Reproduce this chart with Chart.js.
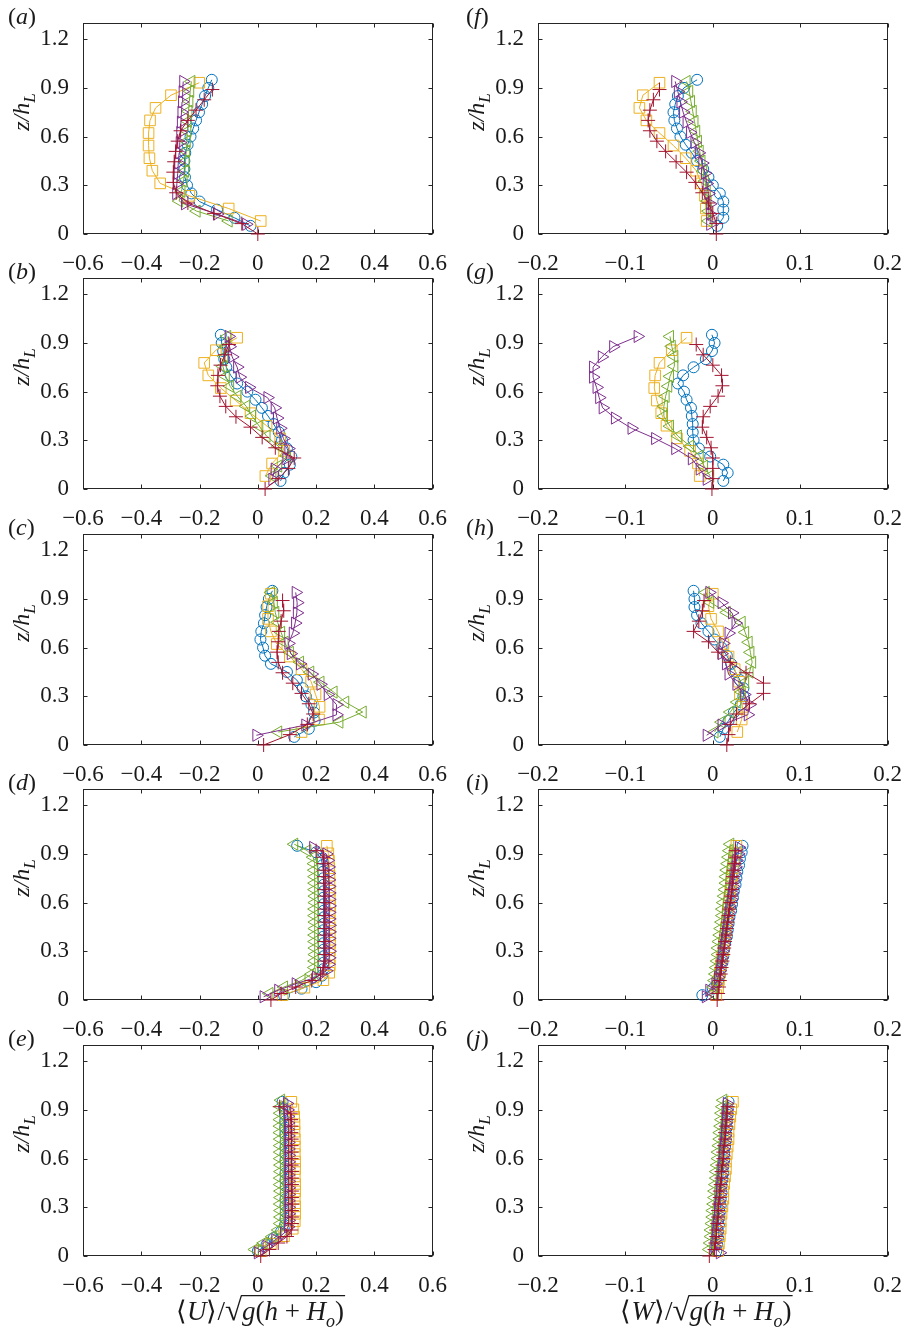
<!DOCTYPE html>
<html lang="en">
<head>
<meta charset="UTF-8">
<title>Mean velocity profiles</title>
<script src="https://cdn.jsdelivr.net/npm/chart.js"></script>
<style>
  body { margin: 0; background: #fff; }
  .page {
    position: relative; width: 910px; height: 1331px; overflow: hidden;
    background: #fff; color: #1a1a1a;
    font-family: 'Liberation Serif', 'Times New Roman', serif;
  }
  .page canvas { position: absolute; }
  .tag { position: absolute; font-size: 24px; line-height: 24px; white-space: nowrap; }
  .ylab {
    position: absolute; font-size: 24px; line-height: 24px; font-style: italic;
    white-space: nowrap; transform: translate(-50%, -50%) rotate(-90deg);
  }
  .ylab sub { font-size: 17px; vertical-align: -6px; }
</style>
</head>
<body>
<div class="page" id="page"></div>

<script>
// heights (z/h_L) of each probe, rows (a)-(c) and (f)-(h)
const zCirc  = [0.05,0.10,0.15,0.20,0.25,0.30,0.35,0.40,0.45,0.50,0.55,0.60,0.65,0.70,0.75,0.80,0.85,0.90,0.95];
const zSq    = [0.08,0.157,0.235,0.312,0.39,0.467,0.545,0.622,0.70,0.777,0.855,0.932];
const zLeft  = [0.08,0.141,0.203,0.264,0.326,0.387,0.449,0.51,0.571,0.633,0.694,0.756,0.817,0.879,0.94];
const zRight = [0.06,0.123,0.186,0.249,0.311,0.374,0.437,0.50,0.563,0.626,0.689,0.751,0.814,0.877,0.94];
const zPlus  = [0,0.064,0.127,0.191,0.254,0.318,0.381,0.445,0.509,0.572,0.636,0.70,0.763,0.827,0.89];

// denser sampling, rows (d)-(e) and (i)-(j)
const zCircD  = [0.03,0.07,0.11,0.15,0.19,0.23,0.27,0.31,0.35,0.39,0.43,0.47,0.51,0.55,0.59,0.63,0.67,0.71,0.75,0.79,0.83,0.87,0.91,0.95];
const zSqD    = [0.03,0.076,0.122,0.168,0.214,0.26,0.306,0.352,0.398,0.444,0.49,0.536,0.582,0.628,0.674,0.72,0.766,0.812,0.858,0.904,0.95];
const zLeftD  = [0.04,0.08,0.12,0.16,0.20,0.24,0.28,0.32,0.36,0.40,0.44,0.48,0.52,0.56,0.60,0.64,0.68,0.72,0.76,0.80,0.84,0.88,0.92,0.96];
const zRightD = [0.02,0.06,0.10,0.14,0.18,0.22,0.26,0.30,0.34,0.38,0.42,0.46,0.50,0.54,0.58,0.62,0.66,0.70,0.74,0.78,0.82,0.86,0.90,0.94];
const zPlusD  = [0,0.04,0.08,0.12,0.16,0.20,0.24,0.28,0.32,0.36,0.40,0.44,0.48,0.52,0.56,0.60,0.64,0.68,0.72,0.76,0.80,0.84,0.88,0.92];

// <U>/sqrt(g(h+Ho))
const a_circ  = [-0.025,-0.08,-0.14,-0.20,-0.228,-0.243,-0.25,-0.252,-0.252,-0.249,-0.241,-0.231,-0.222,-0.212,-0.202,-0.191,-0.181,-0.17,-0.158];
const a_sq    = [0.01,-0.10,-0.235,-0.335,-0.362,-0.372,-0.375,-0.375,-0.37,-0.351,-0.298,-0.201];
const a_left  = [-0.10,-0.21,-0.27,-0.262,-0.255,-0.25,-0.248,-0.246,-0.244,-0.242,-0.24,-0.238,-0.235,-0.232,-0.228];
const a_right = [-0.04,-0.14,-0.25,-0.28,-0.278,-0.275,-0.273,-0.27,-0.268,-0.266,-0.264,-0.262,-0.26,-0.258,-0.256];
const a_plus  = [0.0,-0.055,-0.15,-0.24,-0.28,-0.29,-0.29,-0.287,-0.282,-0.275,-0.265,-0.24,-0.212,-0.184,-0.156];

const b_circ  = [0.078,0.09,0.11,0.115,0.10,0.083,0.072,0.054,0.035,0.014,-0.008,-0.036,-0.071,-0.093,-0.108,-0.115,-0.119,-0.124,-0.127];
const b_sq    = [0.026,0.049,0.09,0.077,0.03,-0.025,-0.076,-0.127,-0.17,-0.184,-0.144,-0.071];
const b_left  = [0.05,0.07,0.10,0.07,0.03,0.005,-0.02,-0.04,-0.07,-0.095,-0.11,-0.12,-0.115,-0.11,-0.105];
const b_right = [0.05,0.058,0.098,0.105,0.088,0.077,0.066,0.058,0.033,-0.03,-0.062,-0.071,-0.088,-0.097,-0.10];
const b_plus  = [0.025,0.07,0.105,0.125,0.06,0.015,-0.025,-0.075,-0.11,-0.13,-0.139,-0.137,-0.128,-0.113,-0.099];

const c_circ  = [0.125,0.175,0.195,0.193,0.184,0.165,0.154,0.134,0.10,0.045,0.025,0.018,0.009,0.012,0.021,0.025,0.03,0.038,0.05];
const c_sq    = [0.15,0.21,0.212,0.198,0.183,0.15,0.11,0.065,0.045,0.035,0.035,0.045];
const c_left  = [0.07,0.28,0.36,0.30,0.26,0.215,0.18,0.145,0.11,0.092,0.08,0.068,0.06,0.055,0.045];
const c_right = [-0.005,0.163,0.27,0.27,0.24,0.215,0.185,0.145,0.113,0.105,0.12,0.128,0.134,0.135,0.13];
const c_plus  = [0.02,0.11,0.17,0.19,0.175,0.15,0.12,0.085,0.07,0.066,0.07,0.072,0.08,0.089,0.085];

const d_circ  = [0.09,0.15,0.20,0.22,0.225,0.226,0.227,0.226,0.226,0.225,0.226,0.227,0.227,0.226,0.226,0.225,0.226,0.226,0.225,0.224,0.222,0.218,0.20,0.135];
const d_sq    = [0.085,0.16,0.225,0.245,0.247,0.246,0.247,0.248,0.247,0.247,0.246,0.247,0.248,0.247,0.247,0.246,0.246,0.245,0.244,0.242,0.237];
const d_left  = [0.04,0.09,0.15,0.185,0.194,0.195,0.196,0.196,0.195,0.195,0.196,0.196,0.195,0.195,0.196,0.196,0.195,0.195,0.195,0.194,0.193,0.19,0.17,0.125];
const d_right = [0.02,0.07,0.13,0.20,0.235,0.243,0.245,0.246,0.245,0.245,0.246,0.246,0.245,0.245,0.246,0.245,0.245,0.245,0.244,0.244,0.243,0.24,0.235,0.19];
const d_plus  = [0.045,0.08,0.13,0.185,0.215,0.226,0.228,0.229,0.228,0.228,0.229,0.229,0.228,0.228,0.229,0.228,0.228,0.228,0.227,0.227,0.226,0.225,0.225,0.20];

const e_circ  = [0.0,0.03,0.055,0.08,0.093,0.095,0.096,0.095,0.095,0.096,0.096,0.095,0.095,0.096,0.095,0.095,0.095,0.096,0.095,0.094,0.094,0.093,0.09,0.085];
const e_sq    = [0.01,0.045,0.09,0.12,0.127,0.128,0.128,0.127,0.128,0.128,0.127,0.128,0.128,0.127,0.127,0.127,0.126,0.126,0.125,0.122,0.115];
const e_left  = [-0.01,0.02,0.05,0.07,0.077,0.078,0.078,0.077,0.078,0.078,0.077,0.077,0.078,0.078,0.077,0.077,0.077,0.077,0.076,0.076,0.076,0.077,0.078,0.08];
const e_right = [0.0,0.03,0.06,0.09,0.104,0.106,0.106,0.106,0.105,0.106,0.106,0.106,0.105,0.105,0.106,0.106,0.105,0.105,0.105,0.104,0.104,0.103,0.102,0.10];
const e_plus  = [0.01,0.04,0.07,0.10,0.115,0.117,0.117,0.117,0.118,0.117,0.117,0.117,0.117,0.117,0.116,0.116,0.116,0.116,0.116,0.115,0.115,0.114,0.113,0.075];

// <W>/sqrt(g(h+Ho))
const f_circ  = [0.005,0.012,0.012,0.012,0.008,0.0,-0.005,-0.011,-0.018,-0.024,-0.031,-0.037,-0.041,-0.044,-0.045,-0.043,-0.04,-0.033,-0.018];
const f_sq    = [-0.007,-0.008,-0.009,-0.013,-0.019,-0.031,-0.045,-0.061,-0.076,-0.084,-0.08,-0.061];
const f_left  = [-0.005,-0.005,-0.006,-0.007,-0.009,-0.011,-0.013,-0.015,-0.017,-0.019,-0.021,-0.023,-0.025,-0.027,-0.03];
const f_right = [-0.003,-0.003,-0.003,-0.005,-0.007,-0.009,-0.012,-0.016,-0.021,-0.026,-0.03,-0.034,-0.037,-0.04,-0.043];
const f_plus  = [0.004,0.004,0.0,-0.005,-0.012,-0.02,-0.03,-0.042,-0.054,-0.064,-0.072,-0.074,-0.072,-0.068,-0.061];

const g_circ  = [0.012,0.017,0.012,-0.003,-0.016,-0.022,-0.023,-0.023,-0.024,-0.025,-0.03,-0.033,-0.04,-0.034,-0.022,-0.008,-0.001,0.002,-0.001];
const g_sq    = [-0.015,-0.017,-0.026,-0.041,-0.053,-0.059,-0.064,-0.067,-0.066,-0.061,-0.047,-0.03];
const g_left  = [-0.003,-0.01,-0.015,-0.026,-0.04,-0.049,-0.056,-0.056,-0.054,-0.051,-0.049,-0.044,-0.044,-0.047,-0.049];
const g_right = [-0.007,-0.015,-0.024,-0.043,-0.066,-0.093,-0.112,-0.126,-0.13,-0.133,-0.137,-0.137,-0.127,-0.114,-0.086];
const g_plus  = [-0.001,0.0,0.0,0.0,-0.002,-0.007,-0.012,-0.011,-0.003,0.006,0.011,0.01,0.0,-0.011,-0.019];

const h_circ  = [0.008,0.012,0.018,0.024,0.032,0.035,0.035,0.031,0.026,0.021,0.016,0.01,0.002,-0.005,-0.013,-0.018,-0.021,-0.021,-0.022];
const h_sq    = [0.028,0.033,0.034,0.031,0.03,0.025,0.018,0.012,0.006,-0.002,-0.005,0.0];
const h_left  = [0.002,0.01,0.02,0.028,0.033,0.037,0.042,0.045,0.043,0.041,0.037,0.033,0.016,-0.003,-0.008];
const h_right = [-0.007,0.01,0.04,0.042,0.036,0.027,0.018,0.015,0.01,0.012,0.018,0.026,0.022,0.01,-0.004];
const h_plus  = [0.016,0.018,0.02,0.027,0.042,0.058,0.058,0.038,0.02,0.006,-0.005,-0.022,-0.016,-0.012,-0.01];

const i_circ  = [-0.012,0.0,0.006,0.008,0.009,0.011,0.012,0.013,0.014,0.016,0.017,0.018,0.019,0.021,0.022,0.023,0.024,0.026,0.027,0.028,0.03,0.031,0.033,0.034];
const i_sq    = [0.004,0.006,0.007,0.008,0.009,0.01,0.012,0.013,0.014,0.015,0.016,0.017,0.018,0.019,0.02,0.021,0.022,0.023,0.024,0.026,0.027];
const i_left  = [0.0,0.001,0.002,0.003,0.004,0.005,0.006,0.006,0.007,0.008,0.009,0.01,0.011,0.011,0.012,0.013,0.014,0.015,0.015,0.016,0.017,0.018,0.019,0.02];
const i_right = [-0.008,-0.004,0.003,0.006,0.008,0.009,0.01,0.011,0.013,0.014,0.015,0.016,0.017,0.018,0.019,0.021,0.022,0.023,0.024,0.025,0.026,0.027,0.029,0.03];
const i_plus  = [0.005,0.006,0.007,0.008,0.009,0.01,0.011,0.012,0.013,0.014,0.015,0.016,0.017,0.018,0.019,0.02,0.021,0.022,0.022,0.023,0.024,0.025,0.026,0.026];

const j_circ  = [0.004,0.005,0.006,0.006,0.007,0.007,0.008,0.009,0.009,0.01,0.01,0.011,0.012,0.012,0.013,0.013,0.014,0.015,0.015,0.016,0.016,0.017,0.017,0.018];
const j_sq    = [0.006,0.007,0.008,0.009,0.009,0.01,0.011,0.012,0.012,0.013,0.014,0.015,0.015,0.016,0.017,0.018,0.018,0.019,0.02,0.021,0.023];
const j_left  = [-0.004,-0.003,-0.002,-0.002,-0.001,0.0,0.0,0.001,0.002,0.002,0.003,0.004,0.004,0.005,0.006,0.006,0.007,0.008,0.008,0.009,0.01,0.01,0.011,0.012];
const j_right = [0.008,0.002,0.003,0.004,0.004,0.005,0.006,0.006,0.007,0.008,0.008,0.009,0.01,0.01,0.011,0.012,0.012,0.013,0.014,0.014,0.015,0.015,0.016,0.016];
const j_plus  = [-0.004,0.002,0.003,0.004,0.004,0.005,0.006,0.006,0.007,0.008,0.008,0.009,0.01,0.01,0.011,0.012,0.012,0.013,0.014,0.014,0.015,0.016,0.016,0.017];

// marker styles, same order as the value arrays of a panel
const markers = [
  { color: '#0072BD', shape: 'circle',   r: 5.5, rot: 0 },
  { color: '#EDB120', shape: 'rect',     r: 7.5, rot: 0 },
  { color: '#77AC30', shape: 'triangle', r: 7,   rot: -90 },
  { color: '#7E2F8E', shape: 'triangle', r: 7,   rot: 90 },
  { color: '#A2142F', shape: 'cross',    r: 7,   rot: 0 }
];

const zUpper = [zCirc, zSq, zLeft, zRight, zPlus];
const zLower = [zCircD, zSqD, zLeftD, zRightD, zPlusD];

const panels = [
  { tag: 'a', col: 0, row: 0, z: zUpper, v: [a_circ, a_sq, a_left, a_right, a_plus] },
  { tag: 'b', col: 0, row: 1, z: zUpper, v: [b_circ, b_sq, b_left, b_right, b_plus] },
  { tag: 'c', col: 0, row: 2, z: zUpper, v: [c_circ, c_sq, c_left, c_right, c_plus] },
  { tag: 'd', col: 0, row: 3, z: zLower, v: [d_circ, d_sq, d_left, d_right, d_plus] },
  { tag: 'e', col: 0, row: 4, z: zLower, v: [e_circ, e_sq, e_left, e_right, e_plus] },
  { tag: 'f', col: 1, row: 0, z: zUpper, v: [f_circ, f_sq, f_left, f_right, f_plus] },
  { tag: 'g', col: 1, row: 1, z: zUpper, v: [g_circ, g_sq, g_left, g_right, g_plus] },
  { tag: 'h', col: 1, row: 2, z: zUpper, v: [h_circ, h_sq, h_left, h_right, h_plus] },
  { tag: 'i', col: 1, row: 3, z: zLower, v: [i_circ, i_sq, i_left, i_right, i_plus] },
  { tag: 'j', col: 1, row: 4, z: zLower, v: [j_circ, j_sq, j_left, j_right, j_plus] }
];

const xRange = [[-0.6, 0.6, 0.2], [-0.2, 0.2, 0.1]];
const xNames = ['U', 'W'];

// page geometry
const colLeft = [0, 455];
const rowTop = [0, 255, 511, 766, 1022];
const CW = 455, CH = 270;
const INK = '#1a1a1a';
const SERIF = "'Liberation Serif', 'Times New Roman', serif";
const tickFont = { family: SERIF, size: 23 };

// axes box with inward ticks on all four sides
const frame = {
  id: 'frame',
  beforeDatasetsDraw(chart) {
    const { ctx, chartArea: ca, scales } = chart;
    const l = Math.round(ca.left) + 0.5, r = Math.round(ca.right) - 0.5;
    const t = Math.round(ca.top) + 0.5, b = Math.round(ca.bottom) - 0.5;
    ctx.save();
    ctx.strokeStyle = '#262626';
    ctx.lineWidth = 1;
    ctx.strokeRect(l, t, r - l, b - t);
    ctx.beginPath();
    scales.x.ticks.forEach(tk => {
      const px = Math.round(scales.x.getPixelForValue(tk.value)) + 0.5;
      ctx.moveTo(px, b); ctx.lineTo(px, b - 4);
      ctx.moveTo(px, t); ctx.lineTo(px, t + 4);
    });
    scales.y.ticks.forEach(tk => {
      const py = Math.round(scales.y.getPixelForValue(tk.value)) + 0.5;
      ctx.moveTo(l, py); ctx.lineTo(l + 4, py);
      ctx.moveTo(r, py); ctx.lineTo(r - 4, py);
    });
    ctx.stroke();
    ctx.restore();
  }
};

function fmt(v) {
  const s = String(Math.round(v * 100) / 100);
  return s === '-0' ? '0' : s.replace('-', '\u2212');
}

const page = document.getElementById('page');

panels.forEach(p => {
  const left = colLeft[p.col], top = rowTop[p.row];
  const cv = document.createElement('canvas');
  cv.width = CW; cv.height = CH;
  cv.style.left = left + 'px'; cv.style.top = top + 'px';
  cv.style.width = CW + 'px'; cv.style.height = CH + 'px';
  page.appendChild(cv);

  const datasets = markers.map((m, k) => ({
    data: p.z[k].map((z, n) => ({ x: p.v[k][n], y: z })),
    showLine: true,
    borderColor: m.color,
    borderWidth: 1,
    backgroundColor: 'rgba(0,0,0,0)',
    pointStyle: m.shape,
    pointRadius: m.r,
    pointRotation: m.rot,
    pointBorderColor: m.color,
    pointBackgroundColor: 'rgba(0,0,0,0)',
    pointBorderWidth: 1,
    tension: 0,
    clip: false,
    order: markers.length - k
  }));

  const xr = xRange[p.col];
  new Chart(cv.getContext('2d'), {
    type: 'scatter',
    data: { datasets },
    plugins: [frame],
    options: {
      responsive: false,
      animation: false,
      events: [],
      layout: { padding: { top: 23, right: p.col === 0 ? 20 : 22, left: 0, bottom: 0 } },
      plugins: { legend: { display: false }, tooltip: { enabled: false } },
      scales: {
        x: {
          type: 'linear', min: xr[0], max: xr[1],
          grid: { display: false }, border: { display: false },
          ticks: { stepSize: xr[2], font: tickFont, color: INK, padding: 8, maxRotation: 0, autoSkip: false, callback: fmt },
          afterFit: s => { s.height = 36; }
        },
        y: {
          type: 'linear', min: 0, max: 1.3,
          grid: { display: false }, border: { display: false },
          ticks: { stepSize: 0.3, includeBounds: false, font: tickFont, color: INK, padding: 6, autoSkip: false, callback: fmt },
          afterFit: s => { s.width = 83; }
        }
      }
    }
  });

  const tag = document.createElement('div');
  tag.className = 'tag';
  tag.innerHTML = '(<i>' + p.tag + '</i>)';
  tag.style.left = (p.col === 0 ? 8 : 466) + 'px';
  tag.style.top = (top + 4) + 'px';
  page.appendChild(tag);

  const yl = document.createElement('div');
  yl.className = 'ylab';
  yl.innerHTML = 'z/h<sub>L</sub>';
  yl.style.left = (left + 25) + 'px';
  yl.style.top = (top + 112) + 'px';
  page.appendChild(yl);
});

// x titles under the bottom row: <q>/sqrt(g(h + H_o)) with the radical bar
const tc = document.createElement('canvas');
tc.width = 910; tc.height = 50;
tc.style.left = '0px'; tc.style.top = '1281px';
page.appendChild(tc);
const tctx = tc.getContext('2d');
tctx.fillStyle = INK;
tctx.strokeStyle = INK;

function drawTitle(q, cx, base) {
  const F = 27;
  const parts = [
    ['\u27E8', 'normal', F, 0], [q, 'italic', F, 0], ['\u27E9/', 'normal', F, 0],
    ['\u221A', 'normal', F + 4, 0],
    ['g', 'italic', F, 0], ['(', 'normal', F, 0], ['h', 'italic', F, 0], [' + ', 'normal', F, 0],
    ['H', 'italic', F, 0], ['o', 'italic', 18, 7], [')', 'normal', F, 0]
  ];
  let total = 0;
  const widths = parts.map(([s, st, sz]) => {
    tctx.font = st + ' ' + sz + 'px ' + SERIF;
    const w = tctx.measureText(s).width;
    total += w;
    return w;
  });
  let x = cx - total / 2, barStart = 0, barY = 0;
  parts.forEach(([s, st, sz, dy], n) => {
    tctx.font = st + ' ' + sz + 'px ' + SERIF;
    tctx.fillText(s, x, base + dy);
    if (s === '\u221A') {
      const m = tctx.measureText(s);
      barStart = x + m.actualBoundingBoxRight - 1;
      barY = base - m.actualBoundingBoxAscent + 0.7;
    }
    x += widths[n];
  });
  tctx.lineWidth = 1.3;
  tctx.beginPath();
  tctx.moveTo(barStart, barY);
  tctx.lineTo(x + 1, barY);
  tctx.stroke();
}

xNames.forEach((q, c) => drawTitle(q, c === 0 ? 260 : 706, 39));
</script>
</body>
</html>
